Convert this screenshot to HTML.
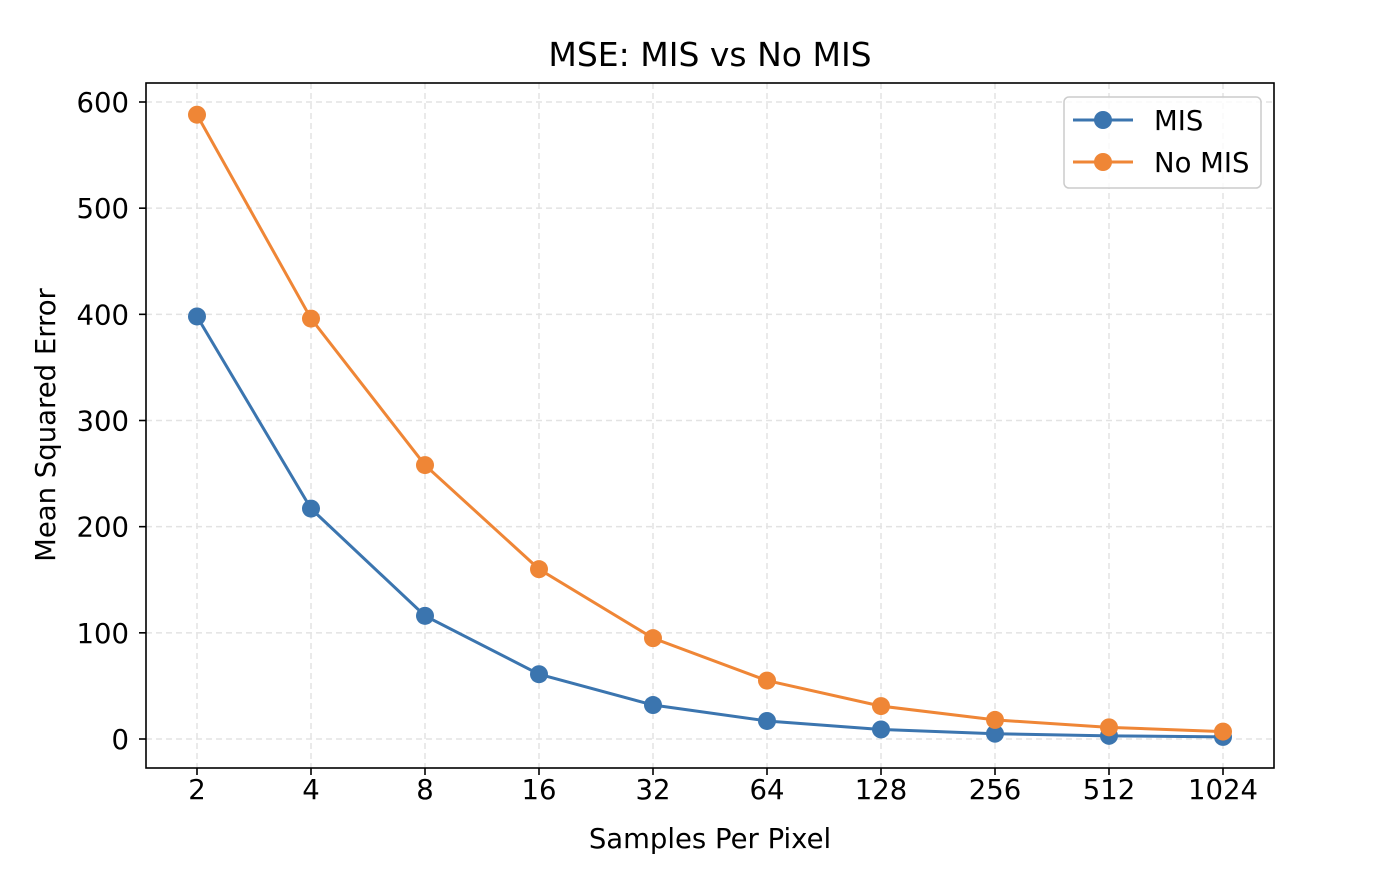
<!DOCTYPE html>
<html><head><meta charset="utf-8"><style>
body{margin:0;background:#fff;}
text{font-family:"DejaVu Sans","Liberation Sans",sans-serif;fill:#000;}
</style></head><body>
<svg id="chart" width="1392" height="866" xmlns="http://www.w3.org/2000/svg">
<rect width="1392" height="866" fill="#fff"/>
<g id="grid"></g>
<g id="series"></g>
<rect x="146" y="83" width="1128" height="685" fill="none" stroke="#000" stroke-width="1.6"/>
<g id="ticks"></g>
<text x="710" y="66" font-size="33" text-anchor="middle">MSE: MIS vs No MIS</text>
<text x="710" y="848" font-size="27.5" text-anchor="middle">Samples Per Pixel</text>
<text transform="translate(55,425) rotate(-90)" font-size="27.5" text-anchor="middle">Mean Squared Error</text>
<g>
<rect x="1064" y="97" width="197" height="91" rx="5" fill="#fff" fill-opacity="0.8" stroke="#ccc" stroke-width="1.5"/>
<line x1="1073" y1="120" x2="1133" y2="120" stroke="#3b75af" stroke-width="3"/>
<circle cx="1103" cy="120" r="9" fill="#3b75af"/>
<text x="1154" y="130" font-size="27.5">MIS</text>
<line x1="1073" y1="162" x2="1133" y2="162" stroke="#ef8636" stroke-width="3"/>
<circle cx="1103" cy="162" r="9" fill="#ef8636"/>
<text x="1154" y="172" font-size="27.5">No MIS</text>
</g>
</svg>
<script>
const categories=["2","4","8","16","32","64","128","256","512","1024"];
const misValues=[398,217,116,61,32,17,9,5,3,2];
const noMisValues=[588,396,258,160,95,55,31,18,11,7];
const yTicks=[0,100,200,300,400,500,600];
const NS="http://www.w3.org/2000/svg";
function x(i){return 197+i*(1223-197)/(categories.length-1);}
function y(v){return 739-v*(739-102)/600;}
function mk(tag,attrs,parent){const e=document.createElementNS(NS,tag);for(const k in attrs)e.setAttribute(k,attrs[k]);parent.appendChild(e);return e;}
const grid=document.getElementById('grid'),ticks=document.getElementById('ticks'),series=document.getElementById('series');
categories.forEach((c,i)=>{
 const g=mk('line',{x1:x(i),x2:x(i),y1:83,y2:768,stroke:'#e3e3e3','stroke-width':1.5,'stroke-dasharray':'6,4'},grid);
 
 
 const t=mk('line',{x1:x(i),x2:x(i),y1:768,y2:775,stroke:'#000','stroke-width':1.6},ticks);
 
 
 const l=mk('text',{x:x(i),y:799,'font-size':27.5,'text-anchor':'middle'},ticks);l.textContent=c;
 
 
});
yTicks.forEach(v=>{
 const g=mk('line',{x1:146,x2:1274,y1:y(v),y2:y(v),stroke:'#e3e3e3','stroke-width':1.5,'stroke-dasharray':'6,4'},grid);
 
 
 const t=mk('line',{x1:139,x2:146,y1:y(v),y2:y(v),stroke:'#000','stroke-width':1.6},ticks);
 
 
 const l=mk('text',{x:129,y:y(v)+10,'font-size':27.5,'text-anchor':'end'},ticks);l.textContent=v;
 
 
});
function draw(vals,color,name){
 const p=mk('polyline',{points:vals.map((v,i)=>x(i)+','+y(v)).join(' '),fill:'none',stroke:color,'stroke-width':3},series);
 
 
 vals.forEach((v,i)=>{
  const c=mk('circle',{cx:x(i),cy:y(v),r:9,fill:color},series);
  
  
 });
}
draw(misValues,'#3b75af','mis');
draw(noMisValues,'#ef8636','no-mis');
</script>
</body></html>
